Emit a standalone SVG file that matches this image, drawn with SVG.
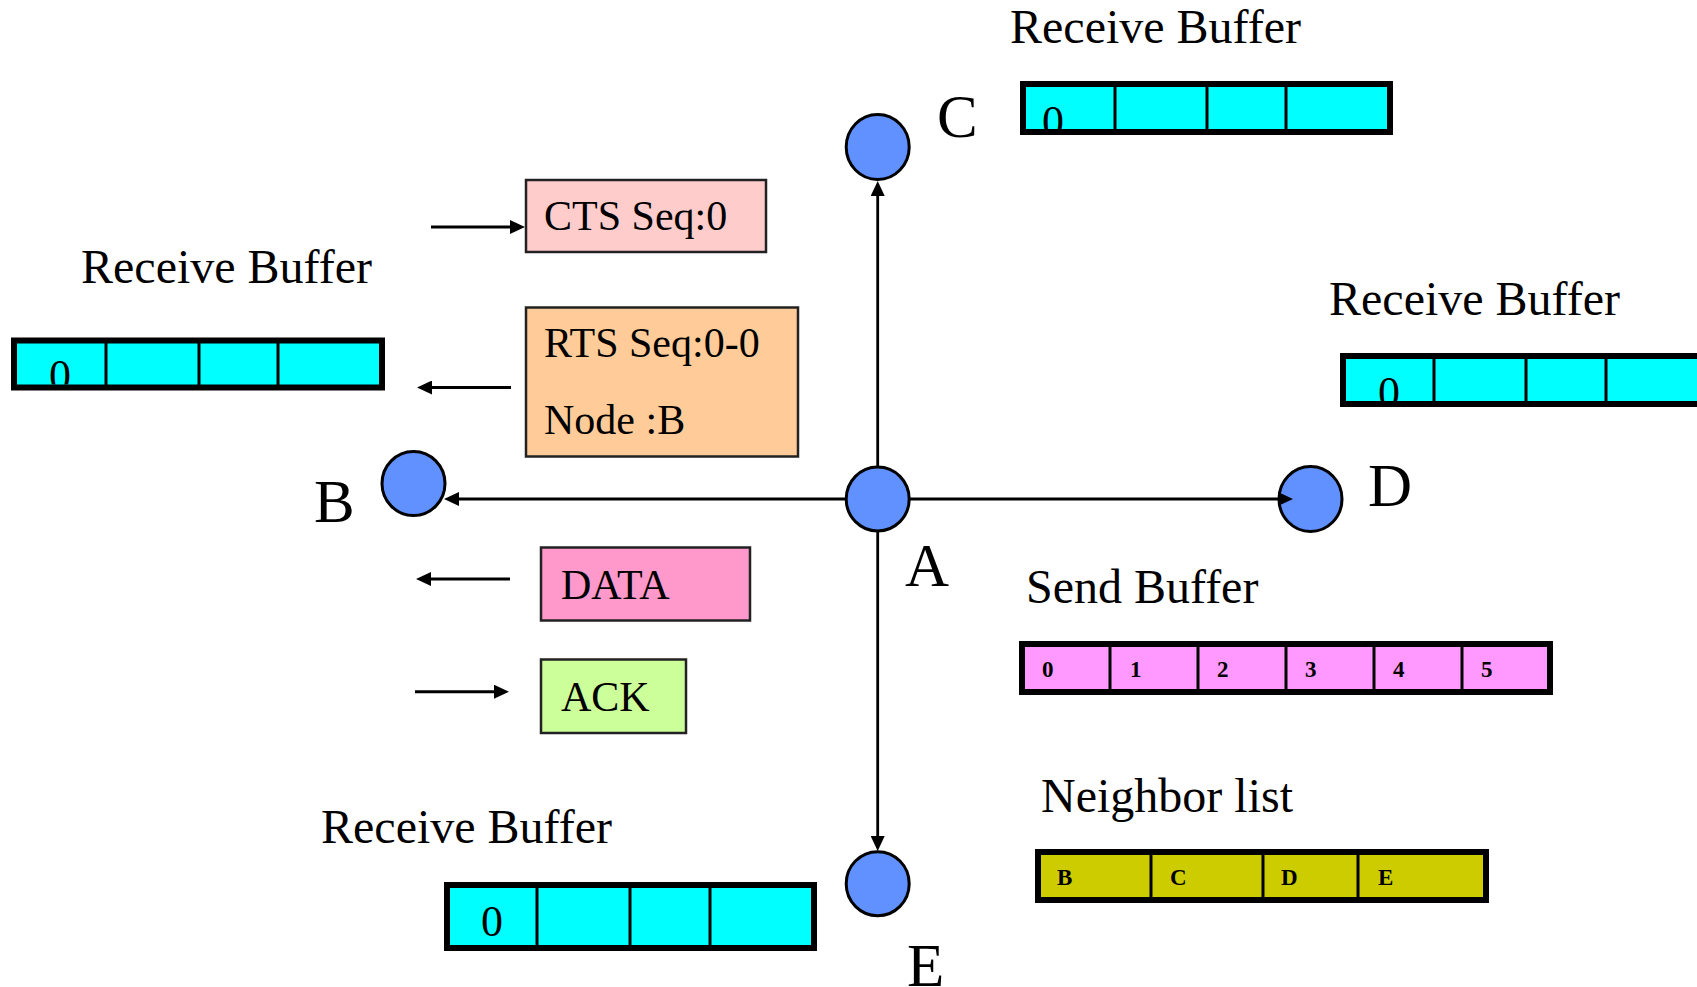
<svg xmlns="http://www.w3.org/2000/svg" width="1697" height="987" viewBox="0 0 1697 987">
<style>
text{font-family:"Liberation Serif","Times New Roman",serif;fill:#000}
.lbl{font-size:48px}
.nl{font-size:61px}
.msg{font-size:42px}
.zero{font-size:44px}
.sm{font-size:23px;font-weight:bold}
.node{fill:#6191FF;stroke:#000;stroke-width:3}
.box{stroke:#222;stroke-width:2.5}
.bufo{fill:none;stroke:#000;stroke-width:6}
.div{stroke:#000;stroke-width:3}
.cy{fill:#00FFFF}
.conn{stroke:#000;stroke-width:2.8;fill:none;marker-end:url(#ah)}
.sarr{stroke:#000;stroke-width:3;fill:none;marker-end:url(#ah)}
</style>
<defs>
<marker id="ah" markerUnits="userSpaceOnUse" markerWidth="16" markerHeight="14" refX="1" refY="7" orient="auto">
<path d="M0,0 L15,7 L0,14 z" fill="#000"/>
</marker>
<clipPath id="clipC"><rect x="1023" y="84" width="367" height="45"/></clipPath>
<clipPath id="clipB"><rect x="14" y="340.5" width="368" height="44"/></clipPath>
<clipPath id="clipD"><rect x="1343" y="356" width="354" height="45"/></clipPath>
</defs>
<rect width="1697" height="987" fill="#fff"/>

<!-- buffers -->
<g id="buf-C">
<text class="lbl" x="1010" y="43">Receive Buffer</text>
<rect class="cy" x="1023" y="84" width="367" height="48"/>
<text class="zero" x="1042" y="136" clip-path="url(#clipC)">0</text>
<line class="div" x1="1115" y1="84" x2="1115" y2="132"/>
<line class="div" x1="1207" y1="84" x2="1207" y2="132"/>
<line class="div" x1="1286" y1="84" x2="1286" y2="132"/>
<rect class="bufo" x="1023" y="84" width="367" height="48"/>
</g>
<g id="buf-B">
<text class="lbl" x="81" y="283">Receive Buffer</text>
<rect class="cy" x="14" y="340.5" width="368" height="47"/>
<text class="zero" x="49" y="390" clip-path="url(#clipB)">0</text>
<line class="div" x1="106" y1="340.5" x2="106" y2="387.5"/>
<line class="div" x1="199" y1="340.5" x2="199" y2="387.5"/>
<line class="div" x1="278" y1="340.5" x2="278" y2="387.5"/>
<rect class="bufo" x="14" y="340.5" width="368" height="47"/>
</g>
<g id="buf-D">
<text class="lbl" x="1329" y="315">Receive Buffer</text>
<rect class="cy" x="1343" y="356" width="367" height="48"/>
<text class="zero" x="1378" y="407" clip-path="url(#clipD)">0</text>
<line class="div" x1="1434" y1="356" x2="1434" y2="404"/>
<line class="div" x1="1526" y1="356" x2="1526" y2="404"/>
<line class="div" x1="1606" y1="356" x2="1606" y2="404"/>
<rect class="bufo" x="1343" y="356" width="367" height="48"/>
</g>
<g id="buf-E">
<text class="lbl" x="321" y="843">Receive Buffer</text>
<rect class="cy" x="447" y="885" width="367" height="63"/>
<text class="zero" x="481" y="936">0</text>
<line class="div" x1="537" y1="885" x2="537" y2="948"/>
<line class="div" x1="630" y1="885" x2="630" y2="948"/>
<line class="div" x1="710" y1="885" x2="710" y2="948"/>
<rect class="bufo" x="447" y="885" width="367" height="63"/>
</g>
<g id="send-buffer">
<text class="lbl" x="1026" y="603">Send Buffer</text>
<rect x="1022" y="644" width="528" height="48" fill="#FF99FF"/>
<line class="div" x1="1110" y1="644" x2="1110" y2="692"/>
<line class="div" x1="1198" y1="644" x2="1198" y2="692"/>
<line class="div" x1="1286" y1="644" x2="1286" y2="692"/>
<line class="div" x1="1374" y1="644" x2="1374" y2="692"/>
<line class="div" x1="1462" y1="644" x2="1462" y2="692"/>
<rect class="bufo" x="1022" y="644" width="528" height="48"/>
<text class="sm" x="1042" y="677">0</text>
<text class="sm" x="1130" y="677">1</text>
<text class="sm" x="1217" y="677">2</text>
<text class="sm" x="1305" y="677">3</text>
<text class="sm" x="1393" y="677">4</text>
<text class="sm" x="1481" y="677">5</text>
</g>
<g id="neighbor-list">
<text class="lbl" x="1041" y="812">Neighbor list</text>
<rect x="1038" y="852" width="448" height="48" fill="#CCCC00"/>
<line class="div" x1="1151" y1="852" x2="1151" y2="900"/>
<line class="div" x1="1263" y1="852" x2="1263" y2="900"/>
<line class="div" x1="1358" y1="852" x2="1358" y2="900"/>
<rect class="bufo" x="1038" y="852" width="448" height="48"/>
<text class="sm" x="1057" y="885">B</text>
<text class="sm" x="1170" y="885">C</text>
<text class="sm" x="1281" y="885">D</text>
<text class="sm" x="1378" y="885">E</text>
</g>

<!-- message boxes -->
<g id="msg-cts">
<rect class="box" x="526" y="180" width="240" height="72" fill="#FFCCCC"/>
<text class="msg" x="544" y="230">CTS Seq:0</text>
</g>
<g id="msg-rts">
<rect class="box" x="526" y="307.5" width="272" height="149" fill="#FFCC99"/>
<text class="msg" x="544" y="357">RTS Seq:0-0</text>
<text class="msg" x="544" y="434">Node :B</text>
</g>
<g id="msg-data">
<rect class="box" x="541" y="547.5" width="209" height="73" fill="#FF99CC"/>
<text class="msg" x="561" y="599">DATA</text>
</g>
<g id="msg-ack">
<rect class="box" x="541" y="659.5" width="145" height="73.5" fill="#CCFF99"/>
<text class="msg" x="561" y="711">ACK</text>
</g>

<!-- nodes -->
<g id="node-A">
<ellipse class="node" cx="877.7" cy="499" rx="31.5" ry="32"/>
<text class="nl" x="905" y="586">A</text>
</g>
<g id="node-B">
<ellipse class="node" cx="413.5" cy="483.5" rx="31.5" ry="32"/>
<text class="nl" x="314" y="522">B</text>
</g>
<g id="node-C">
<ellipse class="node" cx="877.7" cy="147" rx="31.5" ry="32.5"/>
<text class="nl" x="937" y="137">C</text>
</g>
<g id="node-D">
<ellipse class="node" cx="1310.5" cy="499" rx="31.5" ry="32.5"/>
<text class="nl" x="1368" y="506">D</text>
</g>
<g id="node-E">
<ellipse class="node" cx="877.7" cy="883.7" rx="31.5" ry="32"/>
<text class="nl" x="907" y="986">E</text>
</g>

<!-- connectors -->
<g id="connectors">
<path class="conn" d="M877.7,467 L877.7,195"/>
<path class="conn" d="M877.7,531 L877.7,837"/>
<path class="conn" d="M846,499 L458,499"/>
<path class="conn" d="M909.5,499 L1279,499"/>
<path class="sarr" d="M431,227 L511,227"/>
<path class="sarr" d="M511,387.5 L431,387.5"/>
<path class="sarr" d="M510,579 L430,579"/>
<path class="sarr" d="M415,691.7 L495,691.7"/>
</g>
</svg>
